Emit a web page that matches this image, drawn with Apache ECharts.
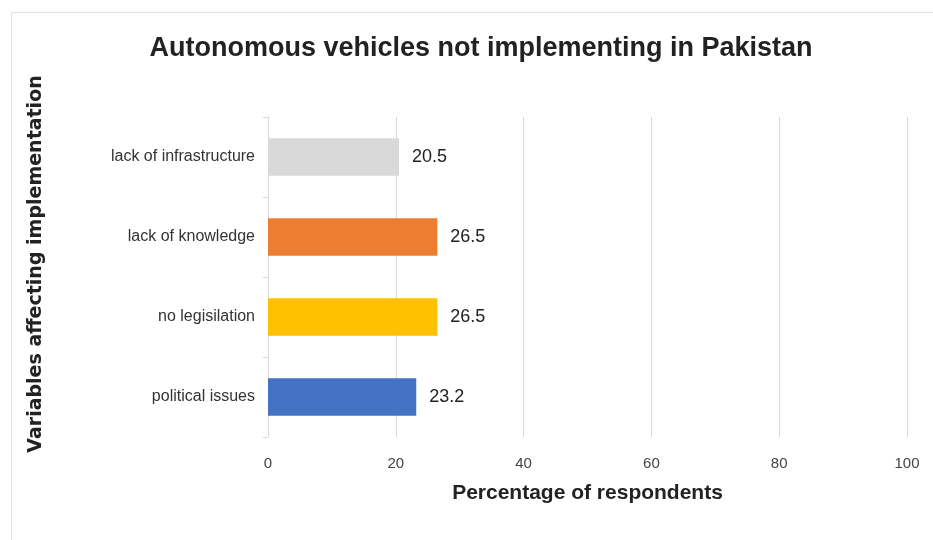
<!DOCTYPE html>
<html>
<head>
<meta charset="utf-8">
<script src="https://cdn.jsdelivr.net/npm/echarts@6/dist/echarts.min.js"></script>
<style>
  html, body { margin: 0; padding: 0; background: #fff; }
  #frame { position: absolute; left: 11px; top: 12px; width: 940px; height: 540px; border: 1px solid #e2e2e2; box-sizing: border-box; }
  #chart { position: absolute; left: 0; top: 0; width: 933px; height: 540px; }
</style>
</head>
<body>
<div id="frame"></div>
<div id="chart"></div>
<script>
// Survey categories, bottom to top
const categories = ['political issues', 'no legisilation', 'lack of knowledge', 'lack of infrastructure'];
const values = [23.2, 26.5, 26.5, 20.5];
const barColors = ['#4472c4', '#ffc000', '#ed7d31', '#d9d9d9'];
const xTicks = [0, 20, 40, 60, 80, 100];

const FONT = 'Liberation Sans, Arial, sans-serif';
const chart = echarts.init(document.getElementById('chart'), null, { renderer: 'canvas' });
chart.setOption({
  animation: false,
  textStyle: { fontFamily: FONT },
  title: {
    text: 'Autonomous vehicles not implementing in Pakistan',
    left: 476, top: 30, textAlign: 'center',
    textStyle: { fontSize: 27, fontWeight: 'bold', color: '#222', fontFamily: FONT }
  },
  grid: { left: 268, right: 26, top: 117, bottom: 103, containLabel: false },
  xAxis: {
    type: 'value', min: xTicks[0], max: xTicks[xTicks.length - 1], interval: 20,
    name: 'Percentage of respondents', nameLocation: 'middle', nameGap: 46,
    nameTextStyle: { fontSize: 21, fontWeight: 'bold', color: '#222' },
    axisLine: { show: false },
    axisTick: { show: false },
    axisLabel: { fontSize: 15, color: '#444', margin: 19 },
    splitLine: { show: true, lineStyle: { color: '#d9d9d9', width: 1 } }
  },
  yAxis: {
    type: 'category', data: categories,
    name: 'Variables affecting implementation', nameLocation: 'middle', nameGap: 222,
    nameTextStyle: {
      fontSize: 19, fontWeight: 'bold', color: '#222',
      fontFamily: 'DejaVu Sans, Liberation Sans, sans-serif',
      padding: [0, 0, 0, 26]
    },
    axisLine: { show: true, lineStyle: { color: '#d9d9d9' } },
    axisTick: { show: true, length: 5, lineStyle: { color: '#d9d9d9' } },
    axisLabel: { fontSize: 16, color: '#333', margin: 13 }
  },
  series: [{
    type: 'bar',
    data: values.map((v, i) => ({ value: v, itemStyle: { color: barColors[i] } })),
    barWidth: '47%',
    label: {
      show: true, position: 'right', distance: 13,
      fontSize: 18, color: '#222',
      formatter: p => p.value.toFixed(1)
    }
  }]
});
</script>
</body>
</html>
